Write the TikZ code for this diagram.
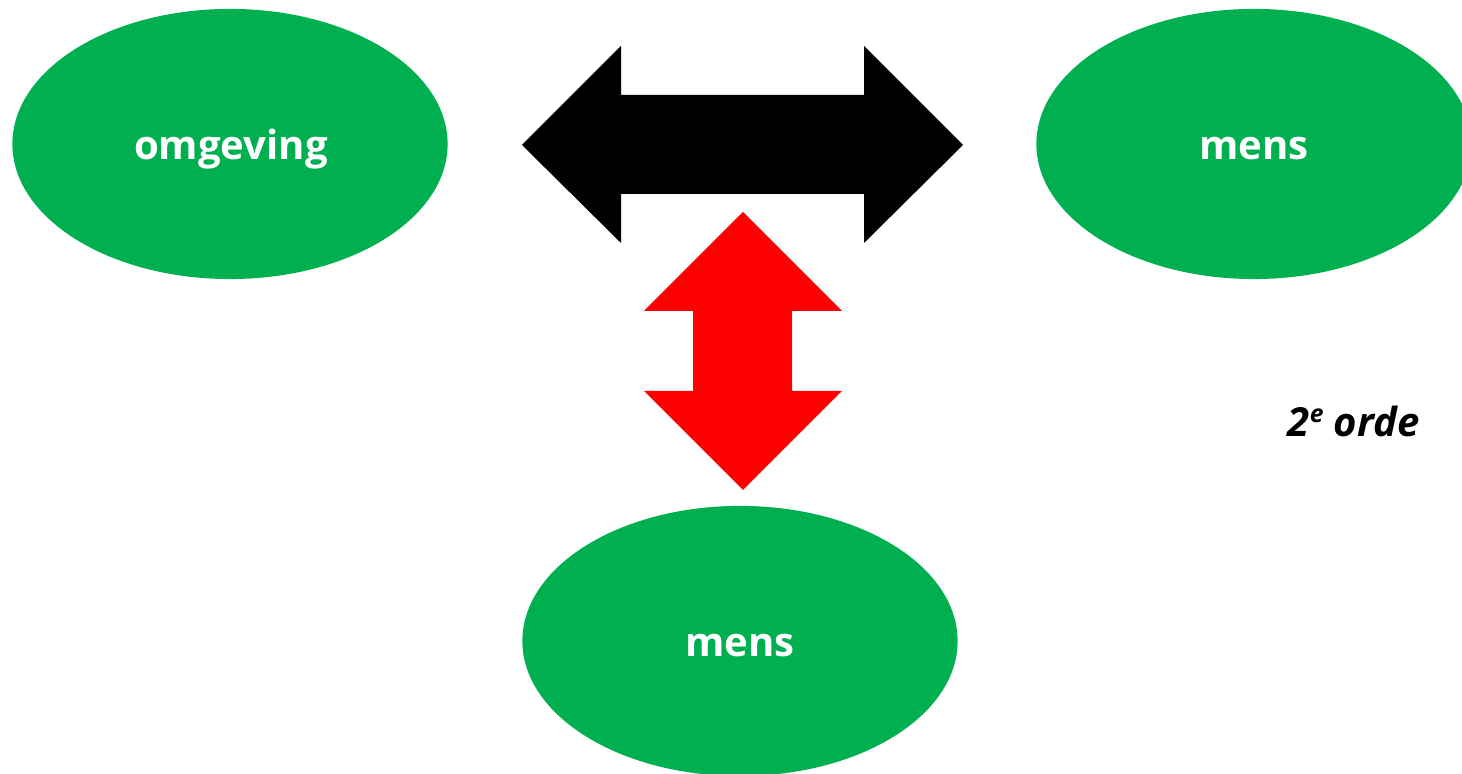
\documentclass[tikz,border=0pt]{standalone}
\usepackage{fontspec}
\setmainfont{Open Sans}
\usetikzlibrary{shapes.geometric}
\definecolor{mgreen}{HTML}{00B050}
\definecolor{mred}{HTML}{FF0000}
\begin{document}
\begin{tikzpicture}[x=0.01cm,y=-0.01cm,
  blob/.style={ellipse,fill=mgreen,draw=none,minimum width=4.35cm,minimum height=2.70cm,inner sep=0pt,
    text=white,font=\fontsize{11.4pt}{13pt}\selectfont\bfseries},
  lbl/.style={font=\fontsize{11.4pt}{13pt}\selectfont\bfseries\itshape,inner sep=0pt}]
\useasboundingbox (0,0) rectangle (1462,774);
\begin{scope}
\clip (0,0) rectangle (1462,774);
\node[blob] (omg) at (230,144) {};
\node[blob] (mensr) at (1254,144) {};
\node[blob] (mensb) at (740,641) {};
\end{scope}
\node[text=white,font=\fontsize{11.4pt}{13pt}\selectfont\bfseries,anchor=base,inner sep=0pt] (tomg) at (231,160) {omgeving};
\node[text=white,font=\fontsize{11.4pt}{13pt}\selectfont\bfseries,anchor=base,inner sep=0pt] (tmensr) at (1254,160) {mens};
\node[text=white,font=\fontsize{11.4pt}{13pt}\selectfont\bfseries,anchor=base,inner sep=0pt] (tmensb) at (740,657) {mens};
% black double arrow
\fill[black] (522,145) -- (621,46) -- (621,95) -- (864,95) -- (864,46) -- (963,145)
  -- (864,243) -- (864,194) -- (621,194) -- (621,243) -- cycle;
% red double arrow
\fill[mred] (743,212) -- (842,311) -- (792,311) -- (792,391) -- (842,391) -- (743,490)
  -- (644,391) -- (693,391) -- (693,311) -- (644,311) -- cycle;
\node[lbl,anchor=base west] (orde) at (1287,437) {2\raisebox{0.35em}{\fontsize{7pt}{8pt}\selectfont e} orde};
\end{tikzpicture}
\end{document}
